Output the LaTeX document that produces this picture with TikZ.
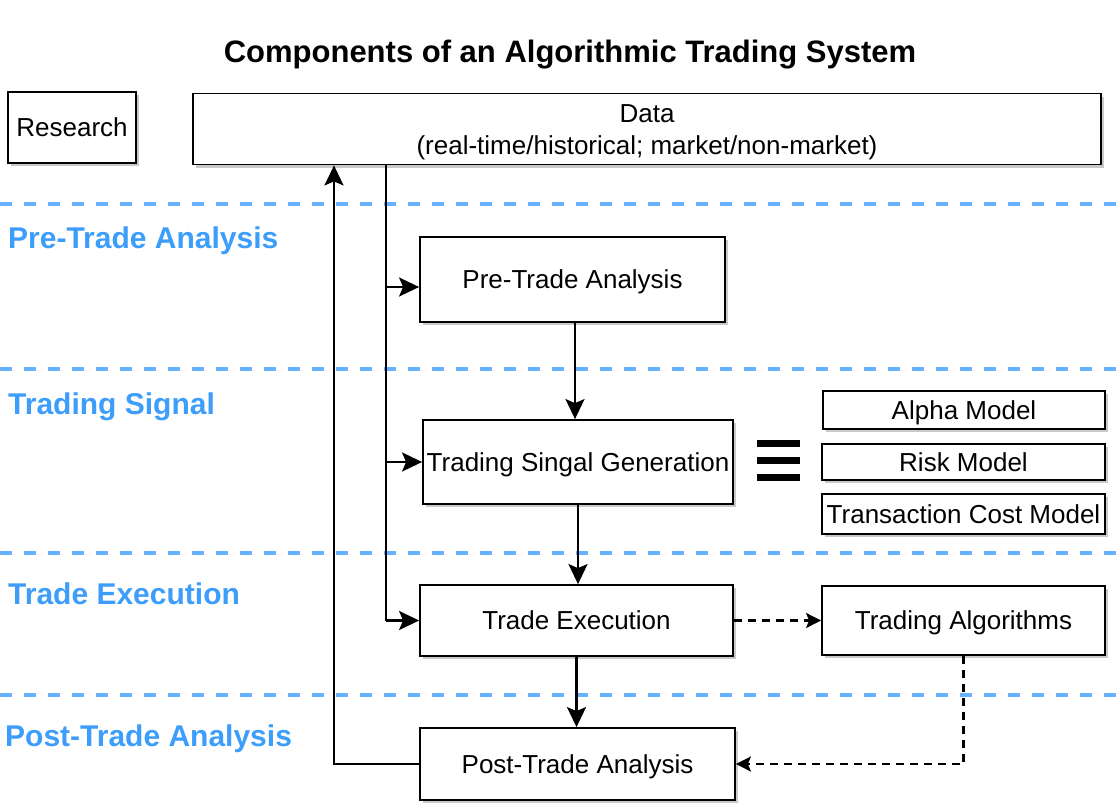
\documentclass[tikz,border=0pt]{standalone}
\usepackage{fontspec}
\setmainfont{Liberation Sans}
\usetikzlibrary{arrows.meta,shadows,calc}
\definecolor{lblue}{RGB}{102,178,255}
\definecolor{tblue}{RGB}{61,157,250}
\begin{document}
\begin{tikzpicture}[x=1pt,y=-1pt,
  box/.style={draw=black,line width=1.8pt,fill=white,inner sep=0pt,align=center,
    font=\fontsize{26}{32}\selectfont,text height=18.6pt,text depth=0pt,
    drop shadow={shadow xshift=3pt,shadow yshift=-3pt,fill=black!35,opacity=0.6}},
  conn/.style={line width=2.3pt,draw=black},
  arr/.style={conn,-{Stealth[length=20pt,width=19pt,inset=4pt]}},
  darr/.style={conn,dash pattern=on 8pt off 6pt,-{Stealth[length=15pt,width=15pt,inset=3pt]}},
  sep/.style={draw=lblue,line width=3.5pt,dash pattern=on 12pt off 12pt},
  side/.style={anchor=west,text=tblue,font=\fontsize{30}{34}\selectfont\bfseries,inner sep=0pt,
    text height=21.5pt,text depth=0pt},
  eqbar/.style={fill=black,draw=none}]
\useasboundingbox (0,0) rectangle (1118,808);
\fill[white] (0,0) rectangle (1118,808);

\node[font=\fontsize{31}{36}\selectfont\bfseries,inner sep=0pt,text height=22pt,text depth=0pt] (title) at (570,52) {Components of an Algorithmic Trading System};

% separators
\draw[sep] (0,204) -- (1118,204);
\draw[sep] (0,369) -- (1118,369);
\draw[sep] (0,553) -- (1118,553);
\draw[sep] (0,695) -- (1118,695);

% side labels
\node[side] (l1) at (8,238) {Pre-Trade Analysis};
\node[side] (l2) at (8,404) {Trading Signal};
\node[side] (l3) at (8,594) {Trade Execution};
\node[side] (l4) at (5,736) {Post-Trade Analysis};

% boxes
\node[box,minimum width=128pt,minimum height=71pt] (research) at (72,127.5) {Research};
\node[box,minimum width=908pt,minimum height=71pt,text height=50.6pt] (data) at (647,129) {Data\\(real-time/historical; market/non-market)};
\node[box,minimum width=305pt,minimum height=85pt] (pre) at (572.5,279.5) {Pre-Trade Analysis};
\node[box,minimum width=310pt,minimum height=84pt] (sig) at (578,462) {Trading Singal Generation};
\node[box,minimum width=313pt,minimum height=71pt] (exe) at (576.5,620.5) {Trade Execution};
\node[box,minimum width=315pt,minimum height=72pt] (post) at (577.5,764) {Post-Trade Analysis};
\node[box,minimum width=282pt,minimum height=38pt] (alpha) at (964,410) {Alpha Model};
\node[box,minimum width=283pt,minimum height=36pt] (risk) at (963.5,462) {Risk Model};
\node[box,minimum width=283pt,minimum height=40pt] (tcm) at (963.5,514) {Transaction Cost Model};
\node[box,minimum width=283pt,minimum height=69pt] (algo) at (963.5,620.5) {Trading Algorithms};

% equivalence sign
\fill[eqbar] (757,440) rectangle (800,447);
\fill[eqbar] (757,457) rectangle (800,464);
\fill[eqbar] (757,474) rectangle (800,481);

% connectors
\coordinate (trunk) at (386,0);
\coordinate (fb) at (334,0);
\coordinate (c1) at (575,0);
\coordinate (prein) at ($(pre.west)+(0,7.5)$);
\draw[conn] (data.south -| trunk) -- (trunk |- exe.west);
\draw[arr] (trunk |- prein) -- (prein);
\draw[arr] (trunk |- sig.west) -- (sig.west);
\draw[arr] (trunk |- exe.west) -- (exe.west);
\draw[arr] (post.west) -| (fb |- data.south);
\draw[arr] (pre.south -| c1) -- (sig.north -| c1);
\draw[arr] (sig.south) -- (sig.south |- exe.north);
\draw[arr] (exe.south) -- (exe.south |- post.north);
\draw[darr] (exe.east) -- (algo.west);
\draw[darr] (algo.south) |- (post.east);
\end{tikzpicture}
\end{document}
